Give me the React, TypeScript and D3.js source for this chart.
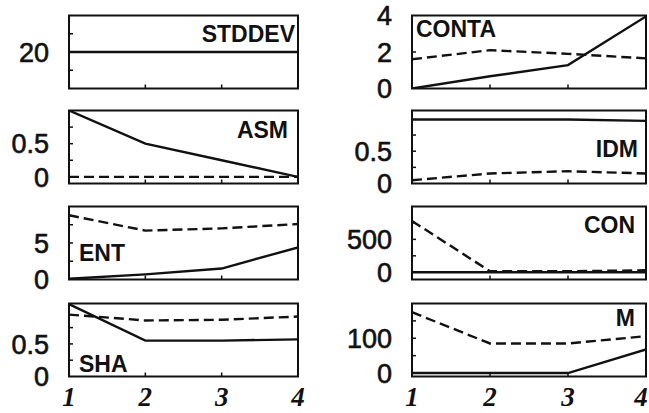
import React, { useEffect, useRef } from 'react';
import * as d3 from 'd3';

// x positions shared by every panel
const steps = [1, 2, 3, 4];
const stepLabels = ['1', '2', '3', '4'];

// panel names
const panelNames = ['STDDEV', 'ASM', 'ENT', 'SHA', 'CONTA', 'IDM', 'CON', 'M'];

// solid series (one per panel)
const stddevSolid = [20, 20, 20, 20];
const asmSolid = [1.0, 0.5, 0.25, 0.0];
const entSolid = [0.1, 0.7, 1.5, 4.4];
const shaSolid = [1.11, 0.55, 0.55, 0.57];
const contaSolid = [0, 0.67, 1.28, 3.95];
const idmSolid = [0.99, 0.99, 0.99, 0.97];
const conSolid = [0, 0, 0, 0];
const mSolid = [0, 0, 0, 68];

// dashed series
const stddevDashed: number[] = [];
const asmDashed = [0, 0, 0, 0];
const entDashed = [8.8, 6.7, 7.0, 7.6];
const shaDashed = [0.95, 0.86, 0.87, 0.92];
const contaDashed = [1.6, 2.1, 1.9, 1.65];
const idmDashed = [0.05, 0.155, 0.19, 0.155];
const conDashed = [780, 15, 15, 30];
const mDashed = [175, 85, 85, 106];

// y domains and labelled ticks
const yDomains = [[0, 40], [-0.1, 1], [0, 10], [0, 1.12], [0, 4], [0, 1.13], [-110, 1000], [-10, 200]];
const yLabels = [[20], [0, 0.5], [0, 5], [0, 0.5], [0, 2, 4], [0, 0.5], [0, 500], [0, 100]];
const yMinor = [[10, 30], [0.25, 0.5, 0.75], [2.5, 5, 7.5], [0.25, 0.5, 0.75], [2], [0.25, 0.5, 0.75], [250, 500, 750], [50, 100, 150]];

const solids = [stddevSolid, asmSolid, entSolid, shaSolid, contaSolid, idmSolid, conSolid, mSolid];
const dashes = [stddevDashed, asmDashed, entDashed, shaDashed, contaDashed, idmDashed, conDashed, mDashed];

// layout: column x ranges, row tops, title placement
const cols = [[69, 298], [412, 646]];
const rowTops = [15.5, 110.5, 206.5, 303.5];
const panelH = 73;
const titleAt = [
  { side: 'end', dx: 3, dy: 26 },
  { side: 'end', dx: 10, dy: 27 },
  { side: 'start', dx: 10, dy: 54 },
  { side: 'start', dx: 10, dy: 68 },
  { side: 'start', dx: 4, dy: 21 },
  { side: 'end', dx: 8, dy: 46 },
  { side: 'end', dx: 11, dy: 26 },
  { side: 'end', dx: 11, dy: 22 },
];

const App = () => {
  const svgRef = useRef<SVGSVGElement>(null);

  useEffect(() => {
    const svg = d3.select(svgRef.current);
    svg.selectAll('*').remove();

    svg.append('rect').attr('width', 649).attr('height', 413).attr('fill', 'white');

    panelNames.forEach((name, i) => {
      const col = Math.floor(i / 4);
      const row = i % 4;
      const [x0, x1] = cols[col];
      const top = rowTops[row];
      const bottom = top + panelH;

      const x = d3.scaleLinear().domain([1, 4]).range([x0, x1]);
      const y = d3.scaleLinear().domain(yDomains[i]).range([bottom, top]);
      const g = svg.append('g');

      // clip lines to the frame
      const clipId = `clip-${i}`;
      g.append('clipPath').attr('id', clipId)
        .append('rect').attr('x', x0).attr('y', top).attr('width', x1 - x0).attr('height', panelH);

      const line = d3.line<number>().x((_, j) => x(steps[j])).y(d => y(d));

      if (dashes[i].length) {
        g.append('path')
          .attr('clip-path', `url(#${clipId})`)
          .attr('d', line(dashes[i]))
          .attr('fill', 'none')
          .attr('stroke', '#111')
          .attr('stroke-width', 2.4)
          .attr('stroke-dasharray', '10,5');
      }
      g.append('path')
        .attr('clip-path', `url(#${clipId})`)
        .attr('d', line(solids[i]))
        .attr('fill', 'none')
        .attr('stroke', '#111')
        .attr('stroke-width', 2.4);

      // frame
      g.append('rect')
        .attr('x', x0).attr('y', top)
        .attr('width', x1 - x0).attr('height', panelH)
        .attr('fill', 'none').attr('stroke', '#111').attr('stroke-width', 2);

      // inner ticks at 2 and 3 on bottom
      g.selectAll('.xt').data([2, 3]).enter().append('line')
        .attr('x1', d => x(d)).attr('x2', d => x(d))
        .attr('y1', bottom).attr('y2', bottom - 4)
        .attr('stroke', '#111').attr('stroke-width', 1.5);

      // inner minor ticks on left
      g.selectAll('.yt').data(yMinor[i]).enter().append('line')
        .attr('x1', x0).attr('x2', x0 + 4)
        .attr('y1', d => y(d)).attr('y2', d => y(d))
        .attr('stroke', '#111').attr('stroke-width', 1.5);

      // y labels
      g.selectAll('.yl').data(yLabels[i]).enter().append('text')
        .attr('x', x0 - 20)
        .attr('y', d => y(d))
        .attr('dy', '0.36em')
        .attr('text-anchor', 'end')
        .attr('font-family', 'Liberation Sans, Arial, sans-serif')
        .attr('font-size', 27)
        .attr('fill', '#111')
        .attr('stroke', '#111')
        .attr('stroke-width', 0.6)
        .text(d => String(d));

      // panel title
      const t = titleAt[i];
      g.append('text')
        .attr('x', t.side === 'end' ? x1 - t.dx : x0 + t.dx)
        .attr('y', top + t.dy)
        .attr('text-anchor', t.side)
        .attr('font-family', 'Liberation Sans, Arial, sans-serif')
        .attr('font-weight', 'bold')
        .attr('font-size', 23)
        .attr('fill', '#111')
        .text(name);

      // x labels under the bottom row
      if (row === 3) {
        g.selectAll('.xl').data(steps).enter().append('text')
          .attr('x', d => Math.min(x(d), 641))
          .attr('y', 406)
          .attr('text-anchor', 'middle')
          .attr('font-family', 'Liberation Serif, Times New Roman, serif')
          .attr('font-weight', 'bold')
          .attr('font-style', 'italic')
          .attr('font-size', 27)
          .attr('fill', '#111')
          .text((_, j) => stepLabels[j]);
      }
    });
  }, []);

  return (
    <svg ref={svgRef} width="649" height="413"
      style={{ position: 'absolute', left: 0, top: 0 }}></svg>
  );
};

export default App;
